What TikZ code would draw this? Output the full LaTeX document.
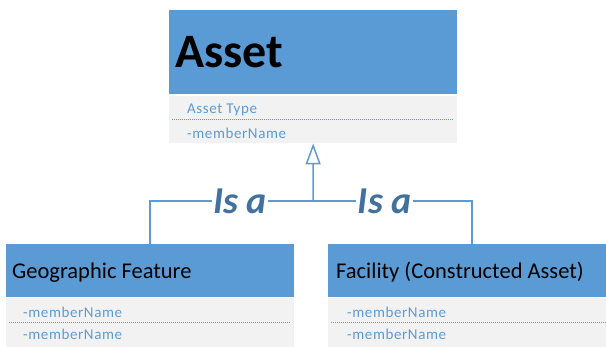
\documentclass[tikz,border=0pt]{standalone}
\usepackage{fontspec}
\setmainfont{Carlito}
\usetikzlibrary{arrows.meta}
\definecolor{umlblue}{HTML}{5B9BD5}
\definecolor{umlgray}{HTML}{F2F2F2}
\definecolor{isablue}{HTML}{41719C}
\tikzset{
  head/.style={fill=umlblue,inner sep=0pt,anchor=north west},
  body/.style={fill=umlgray,inner sep=0pt,anchor=north west},
  title/.style={anchor=base west,inner sep=0pt,text=black},
  member/.style={anchor=base west,inner sep=0pt,text=umlblue,font=\fontsize{15}{17}\selectfont\addfontfeature{LetterSpace=4}},
  sep/.style={umlblue,line width=0.7pt,dash pattern=on 1pt off 1pt},
  isa/.style={fill=white,text=isablue,inner xsep=1.5pt,inner ysep=0pt,anchor=base,yshift=-12pt,font=\fontsize{38}{40}\selectfont\bfseries\itshape},
  link/.style={umlblue,line width=1.5pt}
}
\begin{document}
\begin{tikzpicture}[x=1pt,y=-1pt]
\useasboundingbox (0,0) rectangle (606,346);
% Asset
\node[head,minimum width=288pt,minimum height=84pt] (asset) at (169,10) {};
\node[body,minimum width=288pt,minimum height=47pt] (assetbody) at (169,96) {};
\node[title,font=\fontsize{48}{50}\selectfont\bfseries] (assetname) at (175,67) {Asset};
\node[member] (assettype) at (187,113) {Asset Type};
\node[member] (assetm) at (187,138) {-memberName};
\draw[sep] (172,119) -- (453,119);
% Geographic Feature
\node[head,minimum width=288pt,minimum height=53pt] (geo) at (6,244) {};
\node[body,minimum width=288pt,minimum height=50pt] (geobody) at (6,298) {};
\node[title,font=\fontsize{22.5}{25}\selectfont] (geoname) at (12,278) {Geographic Feature};
\node[member] (geom1) at (23,317) {-memberName};
\node[member] (geom2) at (23,339) {-memberName};
\draw[sep] (9,322) -- (291,322);
% Facility
\node[head,minimum width=278pt,minimum height=53pt] (fac) at (328,244) {};
\node[body,minimum width=278pt,minimum height=50pt] (facbody) at (328,298) {};
\node[title,font=\fontsize{22.5}{25}\selectfont] (facname) at (336,278) {Facility (Constructed Asset)};
\node[member] (facm1) at (347,317) {-memberName};
\node[member] (facm2) at (347,339) {-memberName};
\draw[sep] (331,322) -- (606,322);
% generalisation
\coordinate (join) at (313,201);
\draw[link] (150,244) |- node[isa,pos=0.776] {Is a} (join);
\draw[link] (472,244) |- node[isa,pos=0.774] {Is a} (join);
\draw[link,-{Triangle[open,length=21pt,width=15pt]}] (join) -- (assetbody.south);
\end{tikzpicture}
\end{document}
